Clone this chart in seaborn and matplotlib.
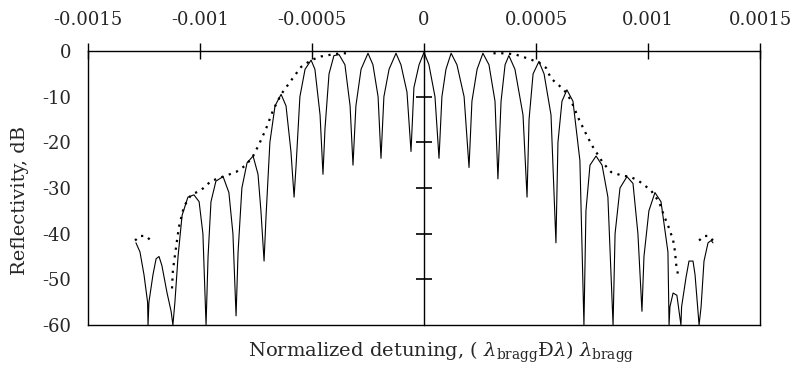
import numpy as np
import pandas as pd
import matplotlib
matplotlib.use("Agg")
import matplotlib.pyplot as plt
import seaborn as sns

# ===============================
# DATA
# detuning in units of 1e-6, reflectivity in dB
# ===============================
det_solid = [
    -1286, -1268, -1250, -1234, -1232,
    -1228, -1210, -1196, -1183, -1170, -1147, -1129, -1121,
    -1112, -1098, -1080, -1054, -1027, -1004, -987, -973,
    -964, -951, -929, -897, -871, -853, -839,
    -830, -813, -790, -763, -741, -728, -714,
    -705, -688, -665, -638, -616, -594, -580,
    -571, -554, -531, -504, -487, -464, -451,
    -442, -424, -402, -379, -353, -330, -317,
    -304, -281, -250, -228, -205, -192,
    -179, -156, -125, -103, -76, -58,
    -45, -22, 0, 22, 49, 67,
    80, 98, 121, 147, 179, 201,
    214, 237, 263, 290, 317, 330,
    344, 362, 379, 406, 442, 460,
    469, 487, 513, 536, 567, 589,
    598, 616, 638, 665, 696, 714,
    723, 741, 768, 795, 821, 844,
    853, 875, 906, 933, 955, 973,
    982, 1004, 1031, 1058, 1072, 1089, 1094,
    1098, 1112, 1129, 1147,
    1150, 1170, 1183, 1201, 1210, 1228,
    1237, 1250, 1268, 1282, 1290,
]
refl_solid = [
    -42, -44, -49, -55, -60,
    -55, -49, -45.5, -45, -47, -53, -57, -60,
    -55, -45, -36, -32, -31.5, -33, -40, -60,
    -45, -33, -28.5, -27.5, -31, -40, -58,
    -44, -30, -24.5, -23, -27, -35, -46,
    -36, -20, -12, -9.5, -12, -22, -32,
    -25, -10, -4, -2, -4, -14, -27,
    -17, -5, -1, -0.8, -3, -12, -25,
    -12, -4, -0.5, -3, -10, -23.5,
    -10, -4, -0.5, -3, -9, -22,
    -8, -3, -0.3, -3, -10, -23.5,
    -10, -4, -0.5, -3, -10, -25.5,
    -11, -4, -0.5, -3, -11, -28,
    -11, -3, -1, -4, -14, -32,
    -15, -5, -2.3, -5, -14, -42,
    -20, -11, -8.5, -11, -24, -60,
    -35, -25, -23, -25, -32, -60,
    -40, -30, -27.5, -29, -40, -57,
    -45, -35, -31, -33, -38, -44, -60,
    -56, -53, -53.5, -60,
    -56, -49.5, -46, -46, -49, -60,
    -56, -46, -42, -41.5, -42,
]

# dotted envelope, four separate pieces
env_seg = [0] * 4 + [1] * 23 + [2] * 25 + [3] * 4
env_det = [
    -1290, -1268, -1241, -1220,
    -1125, -1121, -1107, -1094, -1071, -1040, -996, -951, -897, -839, -795,
    -763, -737, -705, -674, -638, -594, -549, -504, -460, -415, -371, -330,
    310, 366, 411, 455, 513, 545, 567, 625, 656, 692, 732, 754, 799, 835,
    879, 924, 960, 1013, 1049, 1071, 1094, 1112, 1121, 1125, 1134,
    1228, 1250, 1272, 1290,
]
env_refl = [
    -41.5, -40.5, -40.5, -41.5,
    -52, -48, -43, -38.5, -34, -31.5, -30.5, -28.5, -27.5, -26.5, -25,
    -23, -20.5, -17, -13, -9.5, -6.5, -3.5, -2, -1.2, -0.8, -0.5, -0.5,
    -0.5, -0.5, -0.8, -1.5, -2.5, -3.7, -6, -8.5, -10.8, -15, -19, -21, -24.5, -26.5,
    -27.2, -27.6, -28.5, -30.5, -33, -36, -38.8, -41.4, -44, -46.5, -49,
    -41.5, -40.5, -40.5, -41.5,
]

x_ticks = [-0.0015, -0.001, -0.0005, 0, 0.0005, 0.001, 0.0015]
x_labels = ["-0.0015", "-0.001", "-0.0005", "0", "0.0005", "0.001", "0.0015"]
y_ticks = [0, -10, -20, -30, -40, -50, -60]
y_labels = ["0", "-10", "-20", "-30", "-40", "-50", "-60"]
zero_ticks = [-50, -40, -30, -20, -10]

solid = pd.DataFrame({"det": np.array(det_solid) * 1e-6, "refl": refl_solid})
env = pd.DataFrame({"seg": env_seg, "det": np.array(env_det) * 1e-6, "refl": env_refl})

# ===============================
# PLOT
# ===============================
sns.set_theme(style="white")
plt.rcParams["font.family"] = ["DejaVu Serif"]
plt.rcParams["mathtext.fontset"] = "dejavuserif"
plt.rcParams["axes.unicode_minus"] = False

fig = plt.figure(figsize=(7.91, 3.76), dpi=100)
ax = fig.add_axes([88 / 791, 1 - 325 / 376, (760 - 88) / 791, (325 - 51) / 376])

sns.lineplot(data=solid, x="det", y="refl", ax=ax, color="black",
             lw=0.8, sort=False, estimator=None)
sns.lineplot(data=env, x="det", y="refl", units="seg", ax=ax, color="black",
             lw=1.6, linestyle=(0, (1, 2.5)), sort=False, estimator=None)

ax.set_xlim(-0.0015, 0.0015)
ax.set_ylim(-60, 0)
for s in ax.spines.values():
    s.set_visible(True)
    s.set_color("black")
    s.set_linewidth(1.0)

ax.xaxis.tick_top()
ax.set_xticks(x_ticks, x_labels)
ax.tick_params(axis="x", direction="inout", length=11, width=1.0, color="black",
               pad=10, labelsize=13, bottom=False, top=True)
ax.set_yticks(y_ticks, y_labels)
ax.tick_params(axis="y", length=0, pad=12, labelsize=13)
ax.set_ylabel("")
ax.set_xlabel("")

# vertical axis through zero with its own cross ticks
ax2 = ax.twinx()
ax2.set_ylim(-60, 0)
for name in ["top", "bottom", "right"]:
    ax2.spines[name].set_visible(False)
ax2.spines["left"].set_position(("data", 0))
ax2.spines["left"].set_color("black")
ax2.spines["left"].set_linewidth(1.0)
ax2.yaxis.set_ticks_position("left")
ax2.set_yticks(zero_ticks)
ax2.tick_params(axis="y", direction="inout", length=11, width=1.2, color="black",
                labelleft=False, labelright=False)

fig.text(20 / 791, 1 - 200 / 376, "Reflectivity, dB", rotation=90,
         ha="center", va="center", fontsize=14)
fig.text(441 / 791, 1 - 352 / 376,
         r"Normalized detuning, ( $\lambda_{\rm bragg}$Ð$\lambda$) $\lambda_{\rm bragg}$",
         ha="center", va="center", fontsize=14)

fig.savefig("out.png", dpi=100)
